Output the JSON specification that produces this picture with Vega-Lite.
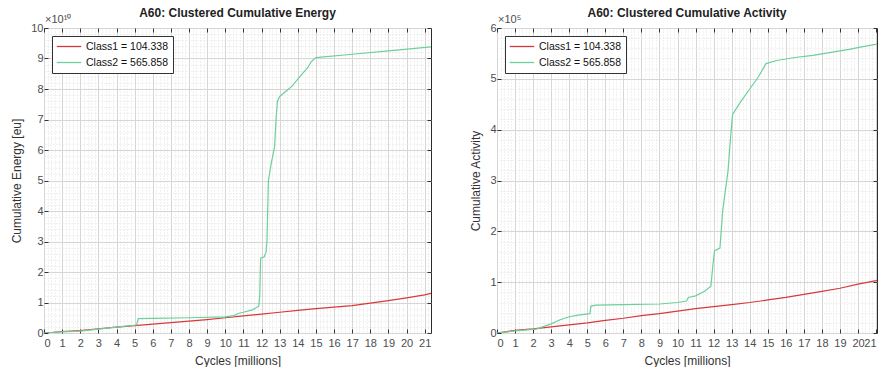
{
  "$schema": "https://vega.github.io/schema/vega-lite/v6.json",
  "padding": {"left": 10, "top": 6, "right": 0, "bottom": 0},
  "background": "white",
  "spacing": 34,
  "config": {
    "font": "Liberation Sans",
    "view": {"stroke": "#2b2b2b", "strokeWidth": 1},
    "axis": {"labelFontSize": 11, "labelColor": "#4d4d4d", "titleFontSize": 12, "titleColor": "#333333", "titleFontWeight": "normal", "domain": false, "labelPadding": 5, "titlePadding": 7, "format": "d"},
    "title": {"fontSize": 12, "fontWeight": "bold", "color": "#222222", "offset": -6},
    "legend": {"title": null, "orient": "top-left", "offset": 8, "symbolType": "stroke", "symbolSize": 600, "symbolStrokeWidth": 1.3, "labelFontSize": 10.5, "labelColor": "#111111", "strokeColor": "#333333", "fillColor": "#ffffff", "padding": 4, "rowPadding": 3, "clipHeight": 13, "labelOffset": 4}
  },
  "datasets": {
    "energy": [
      {"cycles": 0, "value": 0, "class": "Class1 = 104.338"},
      {"cycles": 0.5, "value": 0.02, "class": "Class1 = 104.338"},
      {"cycles": 1, "value": 0.05, "class": "Class1 = 104.338"},
      {"cycles": 2, "value": 0.08, "class": "Class1 = 104.338"},
      {"cycles": 3, "value": 0.14, "class": "Class1 = 104.338"},
      {"cycles": 4, "value": 0.19, "class": "Class1 = 104.338"},
      {"cycles": 5, "value": 0.24, "class": "Class1 = 104.338"},
      {"cycles": 6, "value": 0.29, "class": "Class1 = 104.338"},
      {"cycles": 7, "value": 0.34, "class": "Class1 = 104.338"},
      {"cycles": 8, "value": 0.39, "class": "Class1 = 104.338"},
      {"cycles": 9, "value": 0.44, "class": "Class1 = 104.338"},
      {"cycles": 10, "value": 0.5, "class": "Class1 = 104.338"},
      {"cycles": 11, "value": 0.56, "class": "Class1 = 104.338"},
      {"cycles": 12, "value": 0.62, "class": "Class1 = 104.338"},
      {"cycles": 13, "value": 0.68, "class": "Class1 = 104.338"},
      {"cycles": 14, "value": 0.74, "class": "Class1 = 104.338"},
      {"cycles": 15, "value": 0.8, "class": "Class1 = 104.338"},
      {"cycles": 16, "value": 0.85, "class": "Class1 = 104.338"},
      {"cycles": 17, "value": 0.9, "class": "Class1 = 104.338"},
      {"cycles": 18, "value": 0.98, "class": "Class1 = 104.338"},
      {"cycles": 19, "value": 1.06, "class": "Class1 = 104.338"},
      {"cycles": 20, "value": 1.15, "class": "Class1 = 104.338"},
      {"cycles": 21, "value": 1.25, "class": "Class1 = 104.338"},
      {"cycles": 21.35, "value": 1.3, "class": "Class1 = 104.338"},
      {"cycles": 0, "value": 0, "class": "Class2 = 565.858"},
      {"cycles": 1, "value": 0.04, "class": "Class2 = 565.858"},
      {"cycles": 2, "value": 0.06, "class": "Class2 = 565.858"},
      {"cycles": 3, "value": 0.13, "class": "Class2 = 565.858"},
      {"cycles": 4, "value": 0.19, "class": "Class2 = 565.858"},
      {"cycles": 5.1, "value": 0.26, "class": "Class2 = 565.858"},
      {"cycles": 5.2, "value": 0.47, "class": "Class2 = 565.858"},
      {"cycles": 6, "value": 0.48, "class": "Class2 = 565.858"},
      {"cycles": 8, "value": 0.5, "class": "Class2 = 565.858"},
      {"cycles": 10, "value": 0.53, "class": "Class2 = 565.858"},
      {"cycles": 10.5, "value": 0.57, "class": "Class2 = 565.858"},
      {"cycles": 10.7, "value": 0.64, "class": "Class2 = 565.858"},
      {"cycles": 11, "value": 0.68, "class": "Class2 = 565.858"},
      {"cycles": 11.5, "value": 0.76, "class": "Class2 = 565.858"},
      {"cycles": 11.85, "value": 0.88, "class": "Class2 = 565.858"},
      {"cycles": 11.9, "value": 1.2, "class": "Class2 = 565.858"},
      {"cycles": 11.95, "value": 2.45, "class": "Class2 = 565.858"},
      {"cycles": 12.15, "value": 2.5, "class": "Class2 = 565.858"},
      {"cycles": 12.25, "value": 2.65, "class": "Class2 = 565.858"},
      {"cycles": 12.3, "value": 3.0, "class": "Class2 = 565.858"},
      {"cycles": 12.38, "value": 5.0, "class": "Class2 = 565.858"},
      {"cycles": 12.55, "value": 5.6, "class": "Class2 = 565.858"},
      {"cycles": 12.72, "value": 6.1, "class": "Class2 = 565.858"},
      {"cycles": 12.8, "value": 7.0, "class": "Class2 = 565.858"},
      {"cycles": 12.88, "value": 7.6, "class": "Class2 = 565.858"},
      {"cycles": 13.0, "value": 7.75, "class": "Class2 = 565.858"},
      {"cycles": 13.3, "value": 7.9, "class": "Class2 = 565.858"},
      {"cycles": 13.7, "value": 8.1, "class": "Class2 = 565.858"},
      {"cycles": 14.1, "value": 8.4, "class": "Class2 = 565.858"},
      {"cycles": 14.55, "value": 8.7, "class": "Class2 = 565.858"},
      {"cycles": 14.75, "value": 8.9, "class": "Class2 = 565.858"},
      {"cycles": 15.0, "value": 9.03, "class": "Class2 = 565.858"},
      {"cycles": 17.0, "value": 9.14, "class": "Class2 = 565.858"},
      {"cycles": 19.0, "value": 9.25, "class": "Class2 = 565.858"},
      {"cycles": 21.35, "value": 9.38, "class": "Class2 = 565.858"}
    ],
    "activity": [
      {"cycles": 0, "value": 0, "class": "Class1 = 104.338"},
      {"cycles": 1, "value": 0.05, "class": "Class1 = 104.338"},
      {"cycles": 2, "value": 0.08, "class": "Class1 = 104.338"},
      {"cycles": 3, "value": 0.12, "class": "Class1 = 104.338"},
      {"cycles": 4, "value": 0.16, "class": "Class1 = 104.338"},
      {"cycles": 5, "value": 0.2, "class": "Class1 = 104.338"},
      {"cycles": 6, "value": 0.25, "class": "Class1 = 104.338"},
      {"cycles": 7, "value": 0.29, "class": "Class1 = 104.338"},
      {"cycles": 8, "value": 0.34, "class": "Class1 = 104.338"},
      {"cycles": 9, "value": 0.38, "class": "Class1 = 104.338"},
      {"cycles": 10, "value": 0.43, "class": "Class1 = 104.338"},
      {"cycles": 11, "value": 0.48, "class": "Class1 = 104.338"},
      {"cycles": 12, "value": 0.52, "class": "Class1 = 104.338"},
      {"cycles": 13, "value": 0.56, "class": "Class1 = 104.338"},
      {"cycles": 14, "value": 0.6, "class": "Class1 = 104.338"},
      {"cycles": 15, "value": 0.65, "class": "Class1 = 104.338"},
      {"cycles": 16, "value": 0.7, "class": "Class1 = 104.338"},
      {"cycles": 17, "value": 0.76, "class": "Class1 = 104.338"},
      {"cycles": 18, "value": 0.82, "class": "Class1 = 104.338"},
      {"cycles": 19, "value": 0.88, "class": "Class1 = 104.338"},
      {"cycles": 20, "value": 0.96, "class": "Class1 = 104.338"},
      {"cycles": 21, "value": 1.03, "class": "Class1 = 104.338"},
      {"cycles": 21.35, "value": 1.06, "class": "Class1 = 104.338"},
      {"cycles": 0, "value": 0, "class": "Class2 = 565.858"},
      {"cycles": 1, "value": 0.04, "class": "Class2 = 565.858"},
      {"cycles": 2, "value": 0.07, "class": "Class2 = 565.858"},
      {"cycles": 2.2, "value": 0.08, "class": "Class2 = 565.858"},
      {"cycles": 3, "value": 0.18, "class": "Class2 = 565.858"},
      {"cycles": 3.5, "value": 0.26, "class": "Class2 = 565.858"},
      {"cycles": 4, "value": 0.32, "class": "Class2 = 565.858"},
      {"cycles": 4.5, "value": 0.35, "class": "Class2 = 565.858"},
      {"cycles": 5.15, "value": 0.38, "class": "Class2 = 565.858"},
      {"cycles": 5.2, "value": 0.53, "class": "Class2 = 565.858"},
      {"cycles": 5.5, "value": 0.55, "class": "Class2 = 565.858"},
      {"cycles": 7, "value": 0.56, "class": "Class2 = 565.858"},
      {"cycles": 9, "value": 0.57, "class": "Class2 = 565.858"},
      {"cycles": 10, "value": 0.6, "class": "Class2 = 565.858"},
      {"cycles": 10.5, "value": 0.63, "class": "Class2 = 565.858"},
      {"cycles": 10.6, "value": 0.7, "class": "Class2 = 565.858"},
      {"cycles": 11, "value": 0.73, "class": "Class2 = 565.858"},
      {"cycles": 11.5, "value": 0.82, "class": "Class2 = 565.858"},
      {"cycles": 11.85, "value": 0.92, "class": "Class2 = 565.858"},
      {"cycles": 11.95, "value": 1.3, "class": "Class2 = 565.858"},
      {"cycles": 12.05, "value": 1.62, "class": "Class2 = 565.858"},
      {"cycles": 12.35, "value": 1.67, "class": "Class2 = 565.858"},
      {"cycles": 12.5, "value": 2.4, "class": "Class2 = 565.858"},
      {"cycles": 12.65, "value": 2.8, "class": "Class2 = 565.858"},
      {"cycles": 12.8, "value": 3.2, "class": "Class2 = 565.858"},
      {"cycles": 12.95, "value": 3.9, "class": "Class2 = 565.858"},
      {"cycles": 13.05, "value": 4.3, "class": "Class2 = 565.858"},
      {"cycles": 13.5, "value": 4.55, "class": "Class2 = 565.858"},
      {"cycles": 14, "value": 4.8, "class": "Class2 = 565.858"},
      {"cycles": 14.5, "value": 5.05, "class": "Class2 = 565.858"},
      {"cycles": 14.9, "value": 5.3, "class": "Class2 = 565.858"},
      {"cycles": 15.5, "value": 5.36, "class": "Class2 = 565.858"},
      {"cycles": 16.5, "value": 5.42, "class": "Class2 = 565.858"},
      {"cycles": 17.5, "value": 5.46, "class": "Class2 = 565.858"},
      {"cycles": 18.5, "value": 5.52, "class": "Class2 = 565.858"},
      {"cycles": 19.5, "value": 5.58, "class": "Class2 = 565.858"},
      {"cycles": 20.2, "value": 5.63, "class": "Class2 = 565.858"},
      {"cycles": 21.35, "value": 5.7, "class": "Class2 = 565.858"}
    ]
  },
  "resolve": {"scale": {"x": "independent", "y": "independent"}, "legend": {"color": "independent"}},
  "hconcat": [
    {
      "width": 387,
      "height": 305,
      "title": "A60: Clustered Cumulative Energy",
      "data": {"name": "energy"},
      "resolve": {"axis": {"x": "independent", "y": "independent"}},
      "layer": [
        {
          "mark": {"type": "line", "strokeWidth": 1.2, "clip": true},
          "encoding": {
            "x": {"field": "cycles", "type": "quantitative", "scale": {"domain": [0, 21.35], "nice": false, "zero": false},
              "axis": {"orient": "bottom", "title": "Cycles [millions]", "labelPadding": 8, "labelOverlap": false,
                "values": [0,0.2,0.4,0.6,0.8,1,1.2,1.4,1.6,1.8,2,2.2,2.4,2.6,2.8,3,3.2,3.4,3.6,3.8,4,4.2,4.4,4.6,4.8,5,5.2,5.4,5.6,5.8,6,6.2,6.4,6.6,6.8,7,7.2,7.4,7.6,7.8,8,8.2,8.4,8.6,8.8,9,9.2,9.4,9.6,9.8,10,10.2,10.4,10.6,10.8,11,11.2,11.4,11.6,11.8,12,12.2,12.4,12.6,12.8,13,13.2,13.4,13.6,13.8,14,14.2,14.4,14.6,14.8,15,15.2,15.4,15.6,15.8,16,16.2,16.4,16.6,16.8,17,17.2,17.4,17.6,17.8,18,18.2,18.4,18.6,18.8,19,19.2,19.4,19.6,19.8,20,20.2,20.4,20.6,20.8,21,21.2],
                "labelExpr": "datum.value % 1 === 0 ? datum.label : ''",
                "ticks": true, "tickSize": -4, "tickColor": "#333333",
                "tickOpacity": {"condition": {"test": "datum.value % 1 === 0", "value": 1}, "value": 0},
                "grid": true,
                "gridDash": {"condition": {"test": "datum.value % 1 === 0", "value": []}, "value": [1, 2]},
                "gridColor": {"condition": {"test": "datum.value % 1 === 0", "value": "#d6d6d6"}, "value": "#e2e2e2"}}},
            "y": {"field": "value", "type": "quantitative", "scale": {"domain": [0, 10], "nice": false},
              "axis": {"orient": "left", "title": "Cumulative Energy [eu]", "labelOverlap": false,
                "values": [0,0.2,0.4,0.6,0.8,1,1.2,1.4,1.6,1.8,2,2.2,2.4,2.6,2.8,3,3.2,3.4,3.6,3.8,4,4.2,4.4,4.6,4.8,5,5.2,5.4,5.6,5.8,6,6.2,6.4,6.6,6.8,7,7.2,7.4,7.6,7.8,8,8.2,8.4,8.6,8.8,9,9.2,9.4,9.6,9.8,10],
                "labelExpr": "datum.value % 1 === 0 ? datum.label : ''",
                "ticks": true, "tickSize": -4, "tickColor": "#333333",
                "tickOpacity": {"condition": {"test": "datum.value % 1 === 0", "value": 1}, "value": 0},
                "grid": true,
                "gridDash": {"condition": {"test": "datum.value % 1 === 0", "value": []}, "value": [1, 2]},
                "gridColor": {"condition": {"test": "datum.value % 1 === 0", "value": "#d6d6d6"}, "value": "#e2e2e2"}}},
            "color": {"field": "class", "type": "nominal", "scale": {"domain": ["Class1 = 104.338", "Class2 = 565.858"], "range": ["#d9383a", "#6dcf9b"]}}
          }
        },
        {
          "mark": {"type": "point", "opacity": 0},
          "encoding": {
            "x": {"field": "cycles", "type": "quantitative", "axis": {"orient": "top", "title": null, "labels": false, "grid": false, "tickSize": -4, "tickColor": "#333333", "minExtent": 0, "maxExtent": 0, "values": [0,1,2,3,4,5,6,7,8,9,10,11,12,13,14,15,16,17,18,19,20,21]}},
            "y": {"field": "value", "type": "quantitative", "axis": {"orient": "right", "title": null, "labels": false, "grid": false, "tickSize": -4, "tickColor": "#333333", "minExtent": 0, "maxExtent": 0, "values": [0,1,2,3,4,5,6,7,8,9,10]}}
          }
        },
        {
          "data": {"values": [{"x": 0, "y": 10, "t": "×10¹⁰"}]},
          "mark": {"type": "text", "align": "left", "baseline": "bottom", "dx": 1, "dy": -3, "fontSize": 11, "color": "#4d4d4d"},
          "encoding": {
            "x": {"field": "x", "type": "quantitative", "axis": null},
            "y": {"field": "y", "type": "quantitative", "axis": null},
            "text": {"field": "t"}
          }
        }
      ]
    },
    {
      "width": 380,
      "height": 305,
      "title": "A60: Clustered Cumulative Activity",
      "data": {"name": "activity"},
      "resolve": {"axis": {"x": "independent", "y": "independent"}},
      "layer": [
        {
          "mark": {"type": "line", "strokeWidth": 1.2, "clip": true},
          "encoding": {
            "x": {"field": "cycles", "type": "quantitative", "scale": {"domain": [0, 21.05], "nice": false, "zero": false},
              "axis": {"orient": "bottom", "title": "Cycles [millions]", "labelPadding": 8, "labelOverlap": false, "labelFlush": 2,
                "values": [0,0.2,0.4,0.6,0.8,1,1.2,1.4,1.6,1.8,2,2.2,2.4,2.6,2.8,3,3.2,3.4,3.6,3.8,4,4.2,4.4,4.6,4.8,5,5.2,5.4,5.6,5.8,6,6.2,6.4,6.6,6.8,7,7.2,7.4,7.6,7.8,8,8.2,8.4,8.6,8.8,9,9.2,9.4,9.6,9.8,10,10.2,10.4,10.6,10.8,11,11.2,11.4,11.6,11.8,12,12.2,12.4,12.6,12.8,13,13.2,13.4,13.6,13.8,14,14.2,14.4,14.6,14.8,15,15.2,15.4,15.6,15.8,16,16.2,16.4,16.6,16.8,17,17.2,17.4,17.6,17.8,18,18.2,18.4,18.6,18.8,19,19.2,19.4,19.6,19.8,20,20.2,20.4,20.6,20.8,21],
                "labelExpr": "datum.value % 1 === 0 ? datum.label : ''",
                "ticks": true, "tickSize": -4, "tickColor": "#333333",
                "tickOpacity": {"condition": {"test": "datum.value % 1 === 0", "value": 1}, "value": 0},
                "grid": true,
                "gridDash": {"condition": {"test": "datum.value % 1 === 0", "value": []}, "value": [1, 2]},
                "gridColor": {"condition": {"test": "datum.value % 1 === 0", "value": "#d6d6d6"}, "value": "#e2e2e2"}}},
            "y": {"field": "value", "type": "quantitative", "scale": {"domain": [0, 6], "nice": false},
              "axis": {"orient": "left", "title": "Cumulative Activity", "labelOverlap": false,
                "values": [0,0.2,0.4,0.6,0.8,1,1.2,1.4,1.6,1.8,2,2.2,2.4,2.6,2.8,3,3.2,3.4,3.6,3.8,4,4.2,4.4,4.6,4.8,5,5.2,5.4,5.6,5.8,6],
                "labelExpr": "datum.value % 1 === 0 ? datum.label : ''",
                "ticks": true, "tickSize": -4, "tickColor": "#333333",
                "tickOpacity": {"condition": {"test": "datum.value % 1 === 0", "value": 1}, "value": 0},
                "grid": true,
                "gridDash": {"condition": {"test": "datum.value % 1 === 0", "value": []}, "value": [1, 2]},
                "gridColor": {"condition": {"test": "datum.value % 1 === 0", "value": "#d6d6d6"}, "value": "#e2e2e2"}}},
            "color": {"field": "class", "type": "nominal", "scale": {"domain": ["Class1 = 104.338", "Class2 = 565.858"], "range": ["#d9383a", "#6dcf9b"]}}
          }
        },
        {
          "mark": {"type": "point", "opacity": 0, "clip": true},
          "encoding": {
            "x": {"field": "cycles", "type": "quantitative", "axis": {"orient": "top", "title": null, "labels": false, "grid": false, "tickSize": -4, "tickColor": "#333333", "minExtent": 0, "maxExtent": 0, "values": [0,1,2,3,4,5,6,7,8,9,10,11,12,13,14,15,16,17,18,19,20,21]}},
            "y": {"field": "value", "type": "quantitative", "axis": {"orient": "right", "title": null, "labels": false, "grid": false, "tickSize": -4, "tickColor": "#333333", "minExtent": 0, "maxExtent": 0, "values": [0,1,2,3,4,5,6]}}
          }
        },
        {
          "data": {"values": [{"x": 0, "y": 6, "t": "×10⁵"}]},
          "mark": {"type": "text", "align": "left", "baseline": "bottom", "dx": 1, "dy": -3, "fontSize": 11, "color": "#4d4d4d"},
          "encoding": {
            "x": {"field": "x", "type": "quantitative", "axis": null},
            "y": {"field": "y", "type": "quantitative", "axis": null},
            "text": {"field": "t"}
          }
        }
      ]
    }
  ]
}
